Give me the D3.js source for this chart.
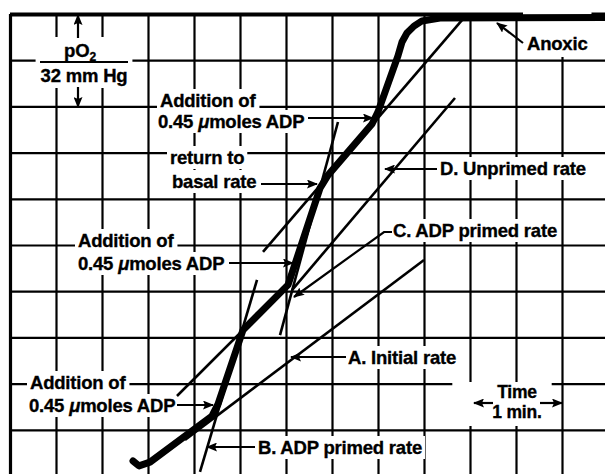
<!DOCTYPE html>
<html lang="en">
<head>
<meta charset="UTF-8">
<title>Oxygen electrode trace</title>
<style>
  html, body { margin: 0; padding: 0; background: #fff; }
  svg { display: block; }
  text {
    font-family: "Liberation Sans", Arial, Helvetica, sans-serif;
    font-weight: bold;
    font-size: 18.5px;
    letter-spacing: -0.2px;
    fill: #000;
    stroke: #000;
    stroke-width: 0.35px;
  }
</style>
</head>
<body>
<div id="chart"></div>
<script src="https://d3js.org/d3.v7.min.js"></script>
<script>
// recorder trace: time (min) and pO2 (mm Hg, 0 = anoxic at the top)
const traceTime = [1.337, 1.402, 1.522, 2.196, 2.261, 2.533, 2.609, 3.022, 3.076, 3.370, 3.457,
                   3.935, 4.000, 4.217, 4.261, 4.315, 4.391, 4.478, 4.674, 6.467];
const tracePO2  = [154.8, 156.5, 155.2, 139.2, 135.1, 109.4, 107.0, 93.8, 88.7, 60.3, 55.8,
                   38.1, 33.9, 14.5, 9.7, 6.6, 4.2, 2.4, 1.4, 1.2];

// rate tangents drawn on the trace, [start, end]
const rateNames = ['A', 'B', 'basal', 'C', 'D', 'E'];
const rateTime  = [[1.902, 4.500], [2.065, 2.685], [1.815, 3.043], [2.935, 3.565], [3.065, 4.837], [2.750, 4.913]];
const ratePO2   = [[147.5, 85.2], [158.6, 92.1], [132.3, 93.2], [111.2, 37.4], [95.6, 29.1], [82.4, 2.1]];

// chart paper: one square = 0.5 min by 16 mm Hg
const timeTicks = [0, 0.5, 1, 1.5, 2, 2.5, 3, 3.5, 4, 4.5, 5, 5.5, 6, 6.5];
const po2Ticks  = [0, 16, 32, 48, 64, 80, 96, 112, 128, 144, 160];

const width = 605, height = 474;

const x = d3.scaleLinear().domain([0, 6.5]).range([10, 608]);
const y = d3.scaleLinear().domain([0, 160]).range([14, 476]);

const svg = d3.select('#chart').append('svg')
    .attr('width', width)
    .attr('height', height);

svg.append('defs').append('marker')
    .attr('id', 'head')
    .attr('markerUnits', 'userSpaceOnUse')
    .attr('markerWidth', 11).attr('markerHeight', 9)
    .attr('refX', 10).attr('refY', 4.5)
    .attr('orient', 'auto')
    .append('path')
    .attr('d', 'M0,0 L11,4.5 L0,9 L2,4.5 Z')
    .attr('fill', '#000');

// grid
svg.append('g')
    .attr('transform', `translate(0,${y(0)})`)
    .call(d3.axisTop(x).tickValues(timeTicks).tickSize(-(y(160) - y(0))).tickFormat(''))
    .call(g => g.select('.domain').remove())
    .selectAll('line')
    .attr('stroke', '#000')
    .attr('stroke-width', d => d === 0 ? 3.2 : 2.2);

svg.append('g')
    .attr('transform', `translate(${x(0)},0)`)
    .call(d3.axisLeft(y).tickValues(po2Ticks).tickSize(-(x(6.5) - x(0))).tickFormat(''))
    .call(g => g.select('.domain').remove())
    .selectAll('line')
    .attr('stroke', '#000')
    .attr('stroke-width', d => d === 0 ? 3.8 : 2.2);

// labels on white patches
const labelLayer = svg.append('g');

function addText(g, str, px, py, anchor, size) {
    const t = g.append('text')
        .attr('x', px).attr('y', py)
        .attr('text-anchor', anchor || 'start');
    if (size) t.style('font-size', size + 'px');
    const parts = str.split('μ');
    parts.forEach((p, i) => {
        if (i > 0) t.append('tspan').style('font-style', 'italic').text('μ');
        t.append('tspan').text(p);
    });
    return t;
}

function patch(g, nodes, pad) {
    const boxes = nodes.map(n => n.node().getBBox());
    const x0 = d3.min(boxes, b => b.x) - pad[3];
    const x1 = d3.max(boxes, b => b.x + b.width) + pad[1];
    const y0 = d3.min(boxes, b => b.y) - pad[0];
    const y1 = d3.max(boxes, b => b.y + b.height) + pad[2];
    g.insert('rect', ':first-child')
        .attr('x', x0).attr('y', y0)
        .attr('width', x1 - x0).attr('height', y1 - y0)
        .attr('fill', '#fff');
}

// pO2 scale marker
{
    const g = labelLayer.append('g');
    const t1 = g.append('text').attr('x', 80).attr('y', 57).attr('text-anchor', 'middle');
    t1.append('tspan').text('pO');
    t1.append('tspan').attr('dy', 4).style('font-size', '12px').text('2');
    const t2 = addText(g, '32 mm Hg', 84, 82, 'middle');
    patch(g, [t1, t2], [3, 5, 2, 5]);
    g.append('line').attr('x1', 40).attr('x2', 128).attr('y1', 62).attr('y2', 62)
        .attr('stroke', '#000').attr('stroke-width', 2);
}

const singleLabels = [
    { text: 'Anoxic', x: 527, y: 50, pad: [22, 4, 3, 4] },
    { text: 'Addition of', x: 160, y: 107 },
    { text: '0.45 μmoles ADP', x: 158, y: 128 },
    { text: 'return to', x: 170, y: 164 },
    { text: 'basal rate', x: 172, y: 188 },
    { text: 'D. Unprimed rate', x: 440, y: 175 },
    { text: 'C. ADP primed rate', x: 393, y: 237 },
    { text: 'Addition of', x: 78, y: 247 },
    { text: '0.45 μmoles ADP', x: 78, y: 270 },
    { text: 'A. Initial rate', x: 348, y: 364 },
    { text: 'Addition of', x: 30, y: 389 },
    { text: '0.45 μmoles ADP', x: 29, y: 412 },
    { text: 'B. ADP primed rate', x: 258, y: 454 }
];

singleLabels.forEach(d => {
    const g = labelLayer.append('g');
    const t = addText(g, d.text, d.x, d.y);
    patch(g, [t], d.pad || [1, 3, 1, 3]);
});

// time scale marker
{
    const g = labelLayer.append('g');
    const t1 = addText(g, 'Time', 517, 398, 'middle', 17.5);
    const t2 = addText(g, '1 min.', 517, 418, 'middle', 17.5);
    patch(g, [t1, t2], [0, 10, 4, 40]);
}

// rate tangents
const lineGen = d3.line().x(d => x(d[0])).y(d => y(d[1]));

svg.append('g')
    .selectAll('path')
    .data(rateNames.map((n, i) => rateTime[i].map((t, j) => [t, ratePO2[i][j]])))
    .join('path')
    .attr('d', lineGen)
    .attr('fill', 'none')
    .attr('stroke', '#000')
    .attr('stroke-width', 2.6);

// recorder trace
svg.append('path')
    .datum(traceTime.map((t, i) => [t, tracePO2[i]]))
    .attr('d', lineGen)
    .attr('fill', 'none')
    .attr('stroke', '#000')
    .attr('stroke-width', 7)
    .attr('stroke-linejoin', 'round')
    .attr('stroke-linecap', 'round');

// pointer arrows
const arrows = [
    [[78, 38], [78, 15]],
    [[78, 87], [78, 107]],
    [[523, 43], [497, 23]],
    [[308, 118], [373, 118]],
    [[261, 184], [317, 184]],
    [[437, 169], [385, 169]],
    [[392, 232], [384, 232], [294, 297]],
    [[229, 263], [293, 263]],
    [[346, 357], [291, 357]],
    [[177, 405], [213, 405]],
    [[255, 447], [207, 447]],
    [[493, 403], [474, 403]],
    [[540, 403], [562, 403]]
];

svg.append('g')
    .selectAll('path')
    .data(arrows)
    .join('path')
    .attr('d', d => d3.line()(d))
    .attr('fill', 'none')
    .attr('stroke', '#000')
    .attr('stroke-width', 2.2)
    .attr('marker-end', 'url(#head)');
</script>
</body>
</html>
